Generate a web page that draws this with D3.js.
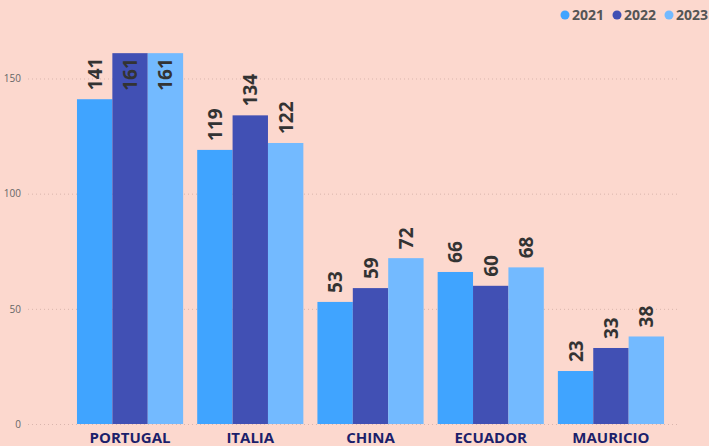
<!DOCTYPE html>
<meta charset="utf-8">
<style>
  body { margin: 0; background: #fcd8ce; }
  text { font-family: "Open Sans", "Segoe UI", sans-serif; }
</style>
<script src="https://d3js.org/d3.v7.min.js"></script>
<div id="my_dataviz"></div>
<script>
  var countries = ["PORTUGAL", "ITALIA", "CHINA", "ECUADOR", "MAURICIO"]
  var years = ["2021", "2022", "2023"]
  var v2021 = [141, 119, 53, 66, 23]
  var v2022 = [161, 134, 59, 60, 33]
  var v2023 = [161, 122, 72, 68, 38]
  var yTicks = [0, 50, 100, 150]
  var colors = ["#40a4ff", "#4150b4", "#73baff"]

  var width = 709, height = 446

  var svg = d3.select("#my_dataviz")
    .append("svg")
      .attr("width", width)
      .attr("height", height)

  svg.append("rect").attr("width", width).attr("height", height).attr("fill", "#fcd8ce")

  var series = [v2021, v2022, v2023]
  var data = []
  countries.forEach(function(c, i) {
    years.forEach(function(yr, j) {
      data.push({country: c, year: yr, value: series[j][i]})
    })
  })

  var y = d3.scaleLinear().domain([0, 150]).range([424, 78.5])

  var x0 = d3.scaleBand()
    .domain(countries)
    .range([70, 671])
    .paddingInner(0.117)
    .paddingOuter(0.058)

  var x1 = d3.scaleBand()
    .domain(years)
    .range([0, x0.bandwidth()])

  var color = d3.scaleOrdinal().domain(years).range(colors)

  // grid + y labels
  var yAxis = svg.append("g")
    .attr("transform", "translate(28,0)")
    .call(d3.axisLeft(y).tickValues(yTicks).tickSize(-652).tickPadding(7))
  yAxis.select(".domain").remove()
  yAxis.selectAll(".tick line")
    .attr("stroke", "#d9b5ad")
    .attr("stroke-dasharray", "1,3")
  yAxis.selectAll(".tick text")
    .attr("fill", "#666")
    .style("font-size", "10px")

  // bars
  svg.selectAll("bars")
    .data(data)
    .enter()
    .append("rect")
      .attr("x", function(d) { return x0(d.country) + x1(d.year) })
      .attr("y", function(d) { return y(d.value) })
      .attr("width", x1.bandwidth())
      .attr("height", function(d) { return y(0) - y(d.value) })
      .attr("fill", function(d) { return color(d.year) })

  // value labels
  svg.selectAll("labels")
    .data(data)
    .enter()
    .append("text")
      .text(function(d) { return d.value })
      .attr("transform", function(d) {
        var cx = x0(d.country) + x1(d.year) + x1.bandwidth() / 2 + 7
        var top = y(d.value)
        var inside = top < 60
        var py = inside ? top + 5 : top - 9
        return "translate(" + cx + "," + py + ") rotate(-90)"
      })
      .attr("text-anchor", function(d) { return y(d.value) < 60 ? "end" : "start" })
      .attr("fill", "#333")
      .style("font-size", "19px")
      .style("font-weight", "700")

  // category labels
  svg.selectAll("cats")
    .data(countries)
    .enter()
    .append("text")
      .text(function(d) { return d })
      .attr("x", function(d) { return x0(d) + x0.bandwidth() / 2 })
      .attr("y", 443)
      .attr("text-anchor", "middle")
      .attr("fill", "#1c1f6b")
      .style("font-size", "15px")
      .style("font-weight", "700")

  // legend
  var legendX = [565, 617, 669]
  var legend = svg.selectAll("legend")
    .data(years)
    .enter()
    .append("g")
      .attr("transform", function(d, i) { return "translate(" + legendX[i] + ",15)" })
  legend.append("circle")
    .attr("r", 4.5)
    .attr("fill", function(d) { return color(d) })
  legend.append("text")
    .text(function(d) { return d })
    .attr("x", 7)
    .attr("y", 5)
    .attr("fill", "#555")
    .style("font-size", "14px")
    .style("font-weight", "700")
</script>
